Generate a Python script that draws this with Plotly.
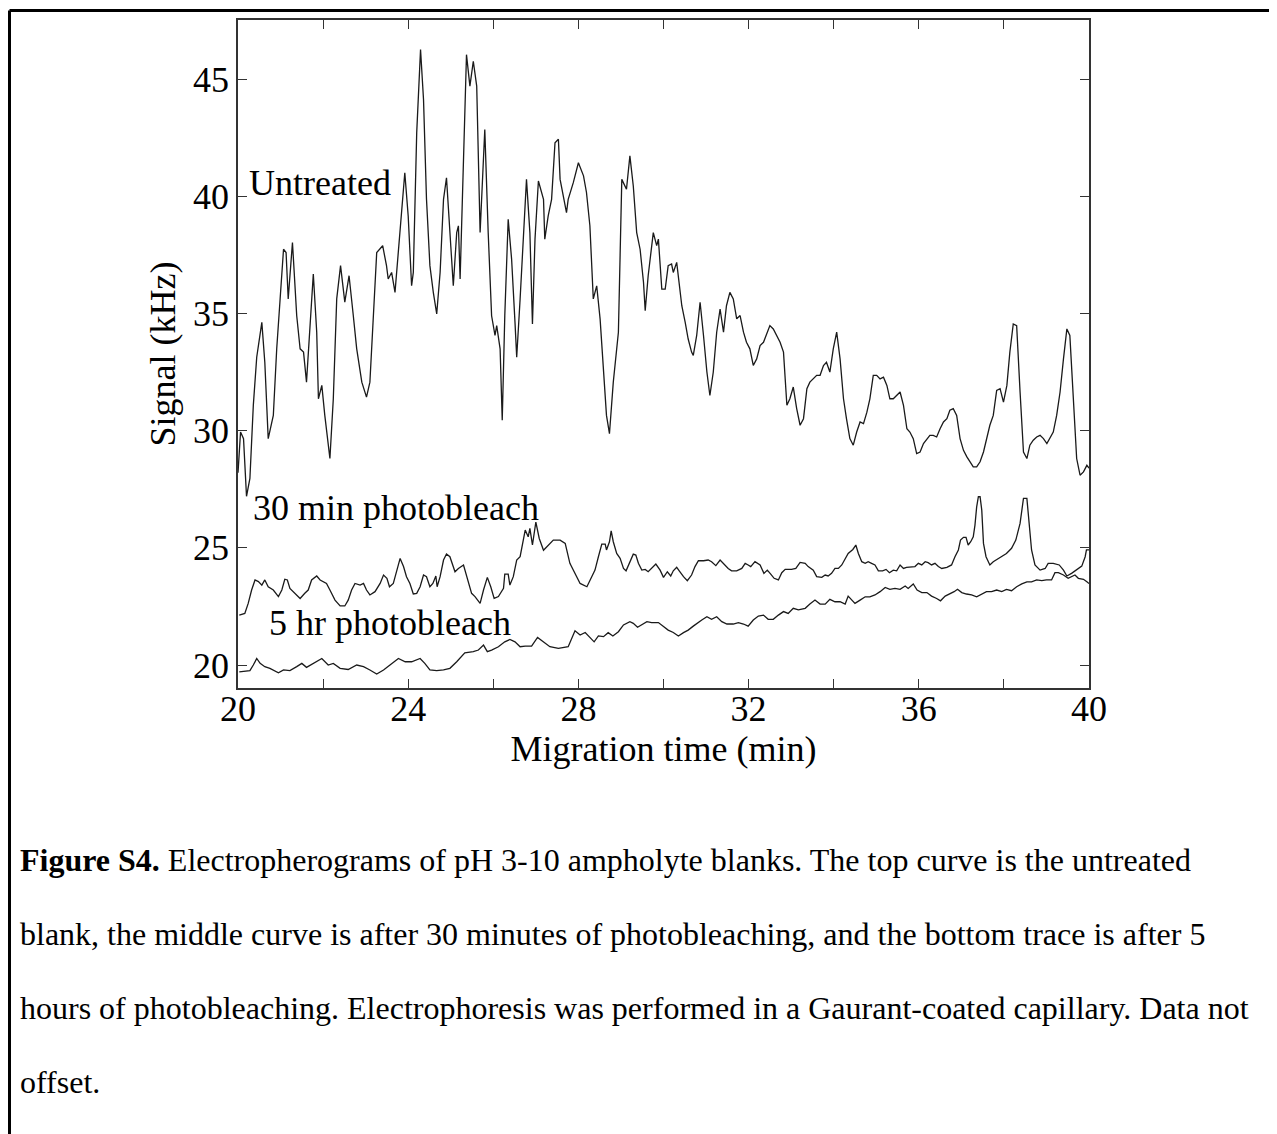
import plotly.graph_objects as go

# ---------------- data ----------------
UNTREATED = [
    (20.0, 28.2), (20.06, 29.94), (20.13, 29.66), (20.2, 27.2), (20.28, 27.96), (20.36, 31.08),
    (20.44, 33.13), (20.56, 34.62), (20.63, 32.92), (20.71, 29.66), (20.83, 30.65), (20.91, 33.49),
    (20.99, 35.62), (21.07, 37.74), (21.13, 37.6), (21.18, 35.62), (21.28, 38.03), (21.38, 34.9),
    (21.46, 33.49), (21.54, 33.35), (21.61, 32.07), (21.68, 33.91), (21.77, 36.68), (21.85, 34.2),
    (21.89, 31.36), (21.97, 31.93), (22.04, 30.65), (22.16, 28.81), (22.24, 31.36), (22.32, 35.62),
    (22.41, 37.04), (22.51, 35.48), (22.61, 36.61), (22.71, 34.9), (22.79, 33.49), (22.91, 32.07),
    (23.02, 31.43), (23.1, 32.07), (23.18, 34.9), (23.26, 37.6), (23.4, 37.89), (23.49, 37.04),
    (23.53, 36.47), (23.61, 36.75), (23.69, 35.9), (23.77, 37.6), (23.85, 39.16), (23.92, 41.0),
    (24.0, 39.16), (24.08, 36.18), (24.12, 36.75), (24.2, 42.71), (24.29, 46.26), (24.36, 44.13),
    (24.43, 39.87), (24.51, 37.04), (24.59, 35.9), (24.67, 34.98), (24.75, 36.75), (24.83, 39.87),
    (24.9, 40.79), (24.98, 38.45), (25.02, 37.04), (25.06, 36.18), (25.14, 38.45), (25.18, 38.74),
    (25.22, 36.47), (25.3, 42.0), (25.37, 46.04), (25.45, 44.7), (25.53, 45.76), (25.61, 44.7),
    (25.65, 41.57), (25.69, 38.45), (25.8, 42.85), (25.84, 40.58), (25.88, 38.45), (25.96, 34.9),
    (26.04, 34.06), (26.08, 34.48), (26.16, 33.49), (26.21, 30.44), (26.27, 34.9), (26.35, 39.02),
    (26.43, 37.32), (26.51, 34.62), (26.55, 33.13), (26.63, 35.62), (26.71, 38.45), (26.78, 40.72),
    (26.86, 38.45), (26.92, 34.55), (26.98, 38.17), (27.06, 40.65), (27.18, 39.87), (27.21, 38.17),
    (27.29, 39.16), (27.37, 39.87), (27.45, 42.28), (27.53, 42.43), (27.57, 40.72), (27.65, 39.87),
    (27.72, 39.3), (27.76, 39.87), (27.88, 40.58), (28.0, 41.43), (28.12, 40.87), (28.19, 40.16),
    (28.27, 38.74), (28.35, 35.62), (28.43, 36.18), (28.51, 34.77), (28.59, 32.5), (28.66, 30.65),
    (28.73, 29.87), (28.82, 32.07), (28.94, 34.2), (29.02, 40.72), (29.13, 40.3), (29.21, 41.72),
    (29.29, 40.44), (29.37, 38.45), (29.45, 37.74), (29.53, 36.33), (29.57, 35.12), (29.64, 36.61),
    (29.76, 38.45), (29.84, 37.89), (29.88, 38.17), (29.92, 37.04), (29.96, 36.04), (30.04, 36.04),
    (30.11, 37.04), (30.19, 37.11), (30.23, 36.75), (30.31, 37.18), (30.39, 36.04), (30.43, 35.33),
    (30.51, 34.62), (30.58, 33.91), (30.66, 33.35), (30.7, 33.21), (30.78, 34.06), (30.86, 35.48),
    (30.94, 34.06), (31.02, 32.5), (31.09, 31.5), (31.17, 32.5), (31.25, 34.2), (31.33, 35.19),
    (31.41, 34.2), (31.48, 35.33), (31.56, 35.9), (31.64, 35.62), (31.72, 34.77), (31.8, 34.91),
    (31.88, 34.2), (31.95, 33.77), (32.03, 33.49), (32.11, 32.78), (32.19, 33.06), (32.27, 33.63),
    (32.35, 33.77), (32.43, 34.2), (32.5, 34.48), (32.58, 34.34), (32.66, 34.06), (32.74, 33.77),
    (32.82, 33.35), (32.9, 31.08), (32.97, 31.36), (33.05, 31.86), (33.13, 30.94), (33.21, 30.23),
    (33.29, 30.51), (33.37, 31.79), (33.44, 32.07), (33.52, 32.21), (33.6, 32.36), (33.68, 32.36),
    (33.76, 32.78), (33.83, 32.92), (33.91, 32.5), (33.99, 33.49), (34.07, 34.2), (34.15, 33.06),
    (34.23, 31.36), (34.3, 30.51), (34.38, 29.66), (34.46, 29.38), (34.54, 29.94), (34.62, 30.37),
    (34.7, 30.3), (34.78, 30.79), (34.85, 31.36), (34.93, 32.36), (35.01, 32.36), (35.09, 32.21),
    (35.17, 32.28), (35.25, 31.93), (35.32, 31.36), (35.4, 31.36), (35.48, 31.5), (35.56, 31.65),
    (35.64, 31.08), (35.72, 30.08), (35.79, 29.94), (35.87, 29.66), (35.95, 29.02), (36.03, 29.09),
    (36.11, 29.45), (36.19, 29.66), (36.26, 29.8), (36.34, 29.8), (36.42, 29.73), (36.5, 30.08),
    (36.58, 30.37), (36.66, 30.51), (36.73, 30.87), (36.81, 30.94), (36.89, 30.65), (36.97, 29.66),
    (37.05, 29.16), (37.13, 28.88), (37.2, 28.67), (37.28, 28.45), (37.36, 28.45), (37.44, 28.67),
    (37.52, 29.09), (37.6, 29.66), (37.67, 30.23), (37.75, 30.65), (37.83, 31.72), (37.91, 31.79),
    (37.99, 31.22), (38.07, 31.93), (38.14, 33.35), (38.22, 34.55), (38.3, 34.48), (38.38, 31.65),
    (38.46, 29.09), (38.54, 28.81), (38.61, 29.38), (38.69, 29.59), (38.77, 29.73), (38.85, 29.8),
    (38.93, 29.66), (39.01, 29.45), (39.08, 29.66), (39.16, 29.94), (39.24, 30.65), (39.32, 31.65),
    (39.4, 33.06), (39.48, 34.34), (39.55, 34.06), (39.63, 31.36), (39.71, 28.81), (39.79, 28.1),
    (39.87, 28.24), (39.95, 28.52), (40.0, 28.4),
]

PHOTOBLEACH_30MIN = [
    (20.03, 22.13), (20.16, 22.2), (20.24, 22.63), (20.32, 23.2), (20.4, 23.63), (20.48, 23.56),
    (20.56, 23.41), (20.63, 23.63), (20.71, 23.34), (20.83, 23.2), (20.95, 22.92), (21.03, 23.2),
    (21.1, 23.66), (21.16, 23.63), (21.22, 23.27), (21.34, 23.06), (21.46, 22.84), (21.57, 23.06),
    (21.65, 23.2), (21.73, 23.63), (21.85, 23.8), (21.93, 23.63), (22.01, 23.56), (22.08, 23.48),
    (22.16, 23.2), (22.28, 22.77), (22.4, 22.52), (22.51, 22.52), (22.59, 22.77), (22.67, 23.2),
    (22.75, 23.48), (22.87, 23.41), (22.95, 23.48), (23.02, 23.2), (23.1, 22.99), (23.22, 23.13),
    (23.34, 23.48), (23.42, 23.84), (23.5, 23.7), (23.56, 23.34), (23.65, 23.48), (23.73, 24.05),
    (23.81, 24.55), (23.89, 24.2), (23.96, 23.77), (24.04, 23.48), (24.12, 23.03), (24.2, 23.06),
    (24.28, 23.34), (24.36, 23.84), (24.43, 23.77), (24.51, 23.34), (24.58, 23.48), (24.65, 23.8),
    (24.68, 23.34), (24.75, 23.77), (24.83, 24.48), (24.9, 24.74), (24.98, 24.62), (25.1, 23.98),
    (25.18, 24.12), (25.3, 24.27), (25.41, 23.63), (25.49, 23.06), (25.57, 22.92), (25.69, 22.63),
    (25.77, 23.2), (25.86, 23.74), (25.94, 23.34), (26.02, 22.84), (26.12, 22.92), (26.24, 23.27),
    (26.27, 23.88), (26.35, 23.88), (26.39, 23.41), (26.47, 23.77), (26.55, 24.48), (26.63, 24.62),
    (26.75, 25.76), (26.82, 25.47), (26.86, 25.83), (26.92, 25.12), (27.0, 26.1), (27.08, 25.4),
    (27.18, 24.9), (27.29, 25.12), (27.41, 25.33), (27.57, 25.33), (27.69, 25.19), (27.8, 24.34),
    (27.92, 23.91), (28.04, 23.48), (28.2, 23.34), (28.31, 23.77), (28.39, 24.05), (28.47, 24.62),
    (28.55, 25.16), (28.63, 25.16), (28.66, 24.91), (28.73, 25.26), (28.77, 25.72), (28.82, 25.26),
    (28.9, 24.76), (28.98, 24.55), (29.06, 24.12), (29.12, 24.02), (29.21, 24.41), (29.29, 24.73),
    (29.35, 24.69), (29.41, 24.34), (29.49, 24.05), (29.57, 24.08), (29.64, 23.98), (29.72, 24.12),
    (29.82, 24.31), (29.92, 24.05), (30.0, 23.74), (30.09, 23.98), (30.17, 23.8), (30.23, 24.02),
    (30.31, 24.17), (30.37, 24.02), (30.47, 23.77), (30.56, 23.6), (30.66, 23.84), (30.74, 24.2),
    (30.82, 24.45), (30.94, 24.45), (31.05, 24.48), (31.13, 24.41), (31.23, 24.24), (31.33, 24.48),
    (31.42, 24.31), (31.52, 24.12), (31.6, 24.02), (31.72, 24.02), (31.84, 24.12), (31.92, 24.34),
    (31.99, 24.27), (32.05, 24.2), (32.15, 24.41), (32.27, 24.27), (32.36, 23.91), (32.44, 24.05),
    (32.52, 23.88), (32.6, 23.7), (32.7, 23.63), (32.78, 23.94), (32.86, 24.08), (33.01, 24.08),
    (33.11, 24.12), (33.21, 24.38), (33.33, 24.34), (33.4, 24.2), (33.52, 24.05), (33.6, 23.77),
    (33.72, 23.74), (33.8, 23.84), (33.87, 23.8), (33.95, 23.91), (34.03, 24.12), (34.11, 24.12),
    (34.19, 24.27), (34.27, 24.55), (34.34, 24.76), (34.45, 24.93), (34.52, 25.12), (34.58, 24.76),
    (34.66, 24.41), (34.74, 24.34), (34.81, 24.41), (34.89, 24.34), (34.97, 24.27), (35.05, 24.02),
    (35.15, 24.02), (35.23, 24.08), (35.31, 23.94), (35.4, 24.05), (35.48, 24.02), (35.56, 24.27),
    (35.64, 24.12), (35.71, 24.17), (35.83, 24.2), (35.91, 24.2), (35.99, 24.34), (36.07, 24.27),
    (36.15, 24.41), (36.22, 24.37), (36.3, 24.27), (36.38, 24.34), (36.46, 24.2), (36.54, 24.12),
    (36.66, 24.17), (36.77, 24.27), (36.85, 24.62), (36.93, 24.91), (36.98, 25.33), (37.05, 25.45),
    (37.11, 25.45), (37.16, 25.12), (37.22, 25.26), (37.28, 25.47), (37.32, 25.97), (37.36, 26.75),
    (37.4, 27.18), (37.44, 27.18), (37.48, 26.61), (37.52, 25.19), (37.58, 24.62), (37.67, 24.27),
    (37.75, 24.41), (37.91, 24.59), (38.06, 24.76), (38.18, 24.98), (38.28, 25.33), (38.38, 26.04),
    (38.46, 27.11), (38.54, 27.11), (38.6, 25.9), (38.65, 24.91), (38.73, 24.27), (38.85, 24.05),
    (38.97, 24.12), (39.04, 24.34), (39.16, 24.34), (39.3, 24.27), (39.4, 24.05), (39.48, 23.8),
    (39.59, 23.91), (39.71, 24.05), (39.83, 24.22), (39.91, 24.62), (39.94, 24.91), (40.0, 24.91),
]

PHOTOBLEACH_5HR = [
    (20.03, 19.71), (20.28, 19.76), (20.36, 20.0), (20.44, 20.28), (20.52, 20.07), (20.63, 19.93),
    (20.75, 19.86), (20.95, 19.67), (21.07, 19.79), (21.22, 19.76), (21.38, 19.93), (21.5, 20.07),
    (21.61, 19.9), (21.77, 20.07), (21.97, 20.28), (22.12, 20.0), (22.24, 20.07), (22.4, 19.86),
    (22.59, 19.81), (22.79, 20.0), (22.95, 19.93), (23.1, 19.79), (23.26, 19.62), (23.42, 19.79),
    (23.57, 20.0), (23.77, 20.28), (23.93, 20.14), (24.08, 20.14), (24.28, 20.28), (24.39, 20.07),
    (24.51, 19.79), (24.67, 19.76), (24.83, 19.79), (24.98, 19.86), (25.14, 20.14), (25.33, 20.52),
    (25.53, 20.57), (25.65, 20.64), (25.77, 20.85), (25.86, 20.57), (25.96, 20.64), (26.12, 20.78),
    (26.27, 20.99), (26.39, 21.09), (26.51, 20.99), (26.63, 20.78), (26.75, 20.81), (26.9, 20.81),
    (27.04, 21.18), (27.18, 20.99), (27.33, 20.78), (27.53, 20.71), (27.76, 20.78), (27.92, 21.46),
    (28.04, 21.28), (28.16, 21.39), (28.26, 21.21), (28.37, 20.99), (28.47, 21.24), (28.59, 21.21),
    (28.7, 21.38), (28.81, 21.24), (28.94, 21.42), (29.06, 21.71), (29.21, 21.85), (29.29, 21.78),
    (29.39, 21.61), (29.49, 21.71), (29.61, 21.85), (29.72, 21.81), (29.88, 21.81), (30.0, 21.64),
    (30.11, 21.49), (30.23, 21.39), (30.35, 21.24), (30.47, 21.38), (30.58, 21.49), (30.7, 21.66),
    (30.78, 21.78), (30.9, 21.92), (31.02, 22.06), (31.13, 21.95), (31.25, 22.06), (31.37, 21.85),
    (31.49, 21.75), (31.64, 21.75), (31.76, 21.81), (31.88, 21.75), (31.99, 21.66), (32.11, 21.92),
    (32.23, 22.09), (32.35, 22.13), (32.46, 21.95), (32.58, 21.95), (32.7, 22.13), (32.82, 22.28),
    (32.93, 22.2), (33.05, 22.42), (33.17, 22.35), (33.33, 22.42), (33.44, 22.6), (33.56, 22.77),
    (33.68, 22.6), (33.8, 22.6), (33.91, 22.8), (34.03, 22.7), (34.15, 22.7), (34.27, 22.6),
    (34.34, 22.94), (34.42, 22.77), (34.5, 22.63), (34.62, 22.77), (34.74, 22.91), (34.85, 22.91),
    (34.97, 22.99), (35.09, 23.13), (35.21, 23.31), (35.32, 23.23), (35.44, 23.27), (35.56, 23.23),
    (35.68, 23.37), (35.75, 23.27), (35.87, 23.46), (35.96, 23.2), (36.07, 23.09), (36.19, 23.09),
    (36.3, 22.94), (36.42, 22.84), (36.51, 22.74), (36.62, 22.94), (36.73, 23.03), (36.83, 23.13),
    (36.91, 23.23), (37.01, 23.09), (37.12, 23.03), (37.24, 22.99), (37.36, 22.91), (37.48, 23.03),
    (37.59, 23.13), (37.71, 23.13), (37.83, 23.2), (37.95, 23.13), (38.06, 23.23), (38.18, 23.17),
    (38.3, 23.34), (38.42, 23.46), (38.54, 23.55), (38.65, 23.55), (38.77, 23.63), (38.89, 23.6),
    (39.0, 23.63), (39.12, 23.63), (39.2, 23.94), (39.28, 23.94), (39.4, 23.84), (39.51, 23.7),
    (39.59, 23.77), (39.67, 23.84), (39.75, 23.7), (39.87, 23.66), (39.95, 23.55), (40.0, 23.48),
]

X_TICKS = [20, 22, 24, 26, 28, 30, 32, 34, 36, 38, 40]
X_TICK_TEXT = ["20", "", "24", "", "28", "", "32", "", "36", "", "40"]
Y_TICKS = [20, 25, 30, 35, 40, 45]
X_RANGE = [20, 40]
Y_RANGE = [19.02, 47.52]

LABELS = [("Untreated", 20.22, 40.56), ("30 min photobleach", 20.31, 26.70), ("5 hr photobleach", 20.68, 21.79)]

CAPTION_LINES = [
    "<b>Figure S4.</b> Electropherograms of pH 3-10 ampholyte blanks. The top curve is the untreated",
    "blank, the middle curve is after 30 minutes of photobleaching, and the bottom trace is after 5",
    "hours of photobleaching. Electrophoresis was performed in a Gaurant-coated capillary. Data not",
    "offset.",
]

# ---------------- figure ----------------
FONT = "Liberation Serif, Times New Roman, serif"
OFF = 8  # page body margin of the html page
W, H = 1277 - OFF, 1134 - OFF
L, T = 238 - OFF, 20 - OFF
PW, PH = 851, 668
R, B = W - L - PW, H - T - PH


def px_to_paper_x(px):
    return (px - OFF - L) / PW


def py_to_paper_y(py):
    return (T + PH - (py - OFF)) / PH


fig = go.Figure()
for name, series in [("Untreated", UNTREATED), ("30 min", PHOTOBLEACH_30MIN), ("5 hr", PHOTOBLEACH_5HR)]:
    fig.add_trace(go.Scatter(
        x=[p[0] for p in series], y=[p[1] for p in series], mode="lines", name=name,
        line=dict(color="#1a1a1a", width=1.3), showlegend=False, hoverinfo="skip",
    ))

axis_common = dict(
    showgrid=False, zeroline=False, showline=True, linecolor="#333333", linewidth=1.5,
    mirror="ticks", ticks="inside", ticklen=9, tickwidth=1.3, tickcolor="#333333",
    tickfont=dict(family=FONT, size=36, color="black"),
)
fig.update_xaxes(range=X_RANGE, tickmode="array", tickvals=X_TICKS, ticktext=X_TICK_TEXT,
                 ticklabelstandoff=-12,
                 title=dict(text="Migration time (min)", font=dict(family=FONT, size=36, color="black"), standoff=0),
                 **axis_common)
fig.update_yaxes(range=Y_RANGE, tickmode="array", tickvals=Y_TICKS,
                 title=dict(text="Signal (kHz)", font=dict(family=FONT, size=36, color="black"), standoff=6),
                 **axis_common)

for text, x, y in LABELS:
    fig.add_annotation(x=x, y=y, xref="x", yref="y", text=text, showarrow=False,
                       xanchor="left", yanchor="middle", font=dict(family=FONT, size=36, color="black"))

for i, line in enumerate(CAPTION_LINES):
    fig.add_annotation(x=px_to_paper_x(18), y=py_to_paper_y(860 + i * 74), xref="paper", yref="paper",
                       text=line, showarrow=False, xanchor="left", yanchor="middle", align="left",
                       font=dict(family=FONT, size=32, color="black"))

# outer border of the figure panel (left and top edges visible)
bx0 = px_to_paper_x(9.5)
bx1 = px_to_paper_x(1290)
by1 = py_to_paper_y(10.5)
by0 = py_to_paper_y(1150)
for x0, y0, x1, y1 in [(bx0, by0, bx0, by1), (bx0, by1, bx1, by1)]:
    fig.add_shape(type="line", xref="paper", yref="paper", x0=x0, y0=y0, x1=x1, y1=y1,
                  line=dict(color="black", width=3), layer="above")

fig.update_layout(
    width=W, height=H, margin=dict(l=L, r=R, t=T, b=B, autoexpand=False),
    paper_bgcolor="white", plot_bgcolor="white",
)

fig.write_html("out.html")
